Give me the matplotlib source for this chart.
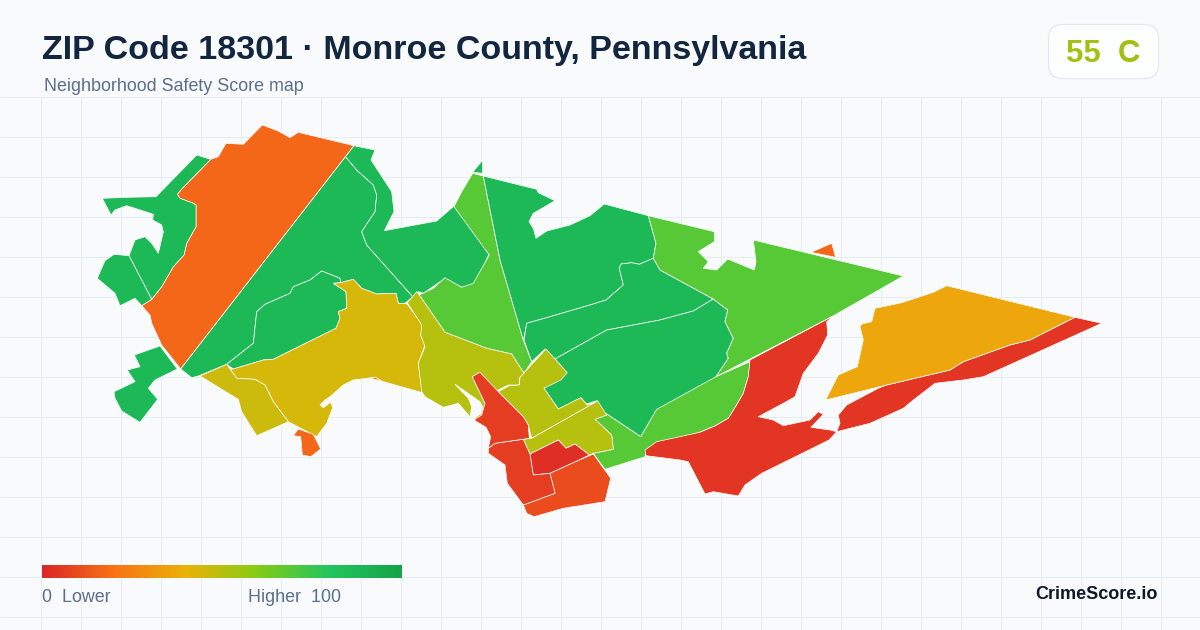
import numpy as np
import matplotlib
matplotlib.use("Agg")
import matplotlib.pyplot as plt
from matplotlib.colors import LinearSegmentedColormap
from matplotlib.patches import Polygon, FancyBboxPatch

# ---------- text ----------
title = "ZIP Code 18301 · Monroe County, Pennsylvania"
subtitle = "Neighborhood Safety Score map"
score_label = "55  C"
low_label = "0  Lower"
high_label = "Higher  100"
brand = "CrimeScore.io"

# ---------- colour scale ----------
stops = [0, .2, .4, .6, .8, 1]
stop_colors = ["#dc2626", "#f97316", "#eab308", "#84cc16", "#22c55e", "#16a34a"]

big_orange = [(141.7,305.7),(151.7,299.3),(161.7,286.7),(173.3,266.7),(184,255),(186.7,243.3),(196,226.7),(196,205),(193.3,203.3),(180,198.3),(177.3,194.3),(181.7,189),(210.7,159.3),(218.3,156.7),(226,143.3),(243.3,144.3),(262.3,125),(278.3,131),(290,137.7),(298.3,132.3),(354,145.7),(180.7,369),(161.7,345),(151.7,323.3),(150,315)]
nw_green = [(102.3,198.3),(128.3,197.3),(156,196.7),(196.7,155),(210.7,159.3),(181.7,189),(177.3,194.3),(180,198.3),(193.3,203.3),(196,205),(196,226.7),(186.7,243.3),(184,255),(173.3,266.7),(161.7,286.7),(151.7,299.3),(129,255.7),(135,240),(145,236.7),(151.7,243.3),(158.3,253.3),(163.3,232),(161.7,225),(152.7,220),(153.3,214.3),(143.3,211),(126.7,205.7),(115,210),(111,215)]
w_green = [(129,255.7),(151.7,299.3),(141.7,305.7),(135,298.3),(120,305.7),(115,293.3),(97.3,278.3),(105,260.7),(114,254.3)]
sw_green = [(160,346),(177.3,369),(155,380),(148.3,388.3),(157.7,399.3),(140,422.3),(121.7,411),(115,398.3),(114,391.7),(135,381.7),(127.3,370),(140,366.7),(134.3,355)]
diag_green = [(345.5,156.7),(356.7,170),(373.3,185),(376.7,195),(375,211.7),(361.7,231.7),(366.7,245),(412.7,296.7),(405,303.3),(398.3,303.3),(396,293.3),(376.7,294),(361.7,288.3),(353.3,279.3),(340.7,282.7),(340,278.3),(321.7,271),(310,280),(293.3,286.7),(290,293.3),(265,304.3),(256.7,311.7),(253.3,343.3),(226.7,364.3),(198.3,376),(191.7,377.7),(180.7,369)]
pocket_green = [(321.7,271),(340,278.3),(340.7,282.7),(333.3,283.3),(346,291.7),(346.7,308.3),(338.3,311.7),(340,318.3),(336,328.3),(273.3,359.3),(263.3,360),(233.3,369),(226.7,364.3),(253.3,343.3),(256.7,311.7),(265,304.3),(290,293.3),(293.3,286.7),(310,280)]
strip_green = [(354,145.7),(375,150),(371,160),(391.7,191.7),(394,211.7),(384.3,230.7),(436.7,221),(454.3,205.7),(489,254.3),(475,283.3),(461.7,287.3),(445,278.3),(423.3,293.3),(418.3,291.7),(412.7,296.7),(366.7,245),(361.7,231.7),(375,211.7),(376.7,195),(373.3,185),(356.7,170),(345.5,156.7)]
big_yellow = [(233.3,369),(263.3,360),(273.3,359.3),(336,328.3),(340,318.3),(338.3,311.7),(346.7,308.3),(346,291.7),(333.3,283.3),(340.7,282.7),(353.3,279.3),(361.7,288.3),(376.7,294),(396,293.3),(398.3,303.3),(405,303.3),(407.3,304.3),(422.7,325),(420.7,335),(425,345),(418.3,363.3),(422.3,392.7),(380,380.7),(375,377.3),(353.3,380),(343.3,385),(330,396.7),(325,400),(320,405),(323.3,407.7),(330.7,402.3),(332.7,407.7),(326.7,423.3),(316.7,436.7),(288.3,421.7),(273.3,401.7),(265,385),(255,379.3),(236.7,378.3),(230,369)]
low_yellow = [(200,376),(226.7,364.3),(230,369),(236.7,378.3),(255,379.3),(265,385),(273.3,401.7),(288.3,421.7),(256.7,435.7),(241.7,411.7),(238.3,399.3)]
small_orange = [(293.3,435.7),(298.3,429),(313.3,434.3),(320.7,449),(310.7,456.7),(302.3,455),(300.7,436.7)]
sliver_orange = [(375,377),(381,380.5),(372,379)]
light_center = [(472.7,173.3),(483.3,176),(500,260),(523.3,340),(531.7,361.7),(524,373.3),(511.7,354),(486.7,348.3),(445,332.3),(419.3,295),(433.3,288.3),(445,277.7),(461.7,287.3),(473.3,283.3),(489.3,255),(454,206.7),(461.7,191.7)]
tip_green = [(472.7,172.3),(482.7,160),(482.7,173.3)]
top_green = [(483.3,176),(536.7,189.3),(538.3,192.7),(555,200.7),(533.3,213.3),(529,221.7),(533.3,228.3),(536,238.3),(546.7,231),(570,225),(590,215.7),(604.3,204),(648.3,215.7),(656,243.3),(653.3,258.3),(639.3,264.3),(631.7,262.7),(621,264),(619.3,268.3),(623.3,285),(606,300),(590,305),(550,316.7),(526.7,323.3),(525,332.7),(523.3,340),(500,260)]
mid_green = [(526.7,323.3),(550,316.7),(590,305),(606,300),(623.3,285),(619.3,268.3),(621,264),(631.7,262.7),(639.3,264.3),(653.3,258.3),(660,270),(713.3,299),(693.3,311),(660,320),(606.7,330),(555,359),(545,349),(531.7,361.7),(524,340)]
low_green = [(555,359),(606.7,330),(660,320),(693.3,311),(713.3,299),(727.7,310),(725,321.7),(733.3,338.3),(726.7,353.3),(728.3,358.3),(715,378.3),(656.7,410),(640.7,436.7),(603.3,411.7),(596.7,400.7),(586.7,404),(581,397.7),(558.3,409),(544,388.3),(566.7,372.3)]
light_east = [(648.3,215.7),(714.3,231.7),(714.3,241.7),(698.3,251.7),(708.3,261.7),(703.3,268.3),(716.7,270),(727.7,259),(754.3,270),(756,261.7),(753.3,240),(903.3,276),(833,316),(716,376.7),(728.3,358.3),(726.7,353.3),(733.3,338.3),(725,321.7),(727.7,310),(713.3,299),(660,270),(653.3,258.3),(656,243.3)]
east_orange = [(811,252.3),(831.7,243.3),(835.7,257.3)]
light_south = [(750,361.7),(716,376.7),(656.7,409.3),(640.7,436.7),(603.3,411.7),(606.7,415),(595,419.3),(611.7,435),(613.3,449.3),(593.3,453.3),(605,469.3),(645,456.7),(646,450),(660,441.7),(696.7,433.3),(715,426),(728.3,418.3),(736,406),(743.3,393.3),(748.3,376.7)]
big_red = [(750,360),(833.3,316),(826.7,321.7),(827.7,335),(818.3,353.3),(803.3,373.3),(795,396.7),(783.3,403.3),(758.3,416.7),(773.3,420),(783.3,425.7),(810,420),(818.3,411.7),(823.3,414.3),(811,427.3),(830,430),(836.7,431.7),(829,440),(761.7,473.3),(745,485),(738.3,496),(713.3,491.7),(705,494),(688.3,461.7),(680,460),(646,455.7),(645,450),(656.7,441.7),(700,432.3),(715,426),(728.3,418.3),(736,406),(743.3,393.3),(748.3,376.7)]
red_strip = [(836.7,431.7),(840,423.3),(838.3,415),(846.7,405),(878.3,388.3),(886.7,385),(950,370),(963.3,361.7),(1010,345),(1030,340),(1075,317.3),(1101.7,323.3),(983.3,376.7),(963.3,380),(935,383.3),(913.3,400),(903.3,408.3),(870,423.3)]
gold_east = [(825.7,400),(838.3,375),(857.3,366.7),(863.3,340),(860,326.7),(861.7,324),(871.7,321.7),(875,308.3),(901.7,302.7),(933.3,292.3),(946.7,285.7),(1075,317.3),(1030,340),(1010,345),(963.3,361.7),(950,370),(886.7,385)]
olive_west = [(407.3,302.7),(416.7,291.7),(419.3,295),(445,332.3),(486.7,348.3),(511.7,354),(524,373.3),(519.3,378.3),(519.3,385),(508.3,385),(496.7,390.7),(479.3,372.7),(472.3,376.7),(485,403.3),(482.7,415),(480,420),(474,418.3),(481.7,413.3),(482.7,406.7),(480,401.7),(466.7,392.3),(455,384.3),(468.3,398.3),(471.7,406.7),(470,416.7),(458.3,403.3),(443.3,407.3),(425,396.7),(421.7,391.7),(418.3,363.3),(425,346.7),(420.7,335),(421.7,325)]
olive_center = [(498.3,391.7),(509.3,385.7),(519.3,385),(520,377.3),(546,349),(567.3,372.7),(560.7,380),(544,388.3),(558.3,409),(580.7,397.7),(587.3,405),(597.7,401),(531.7,438.3),(528.3,425),(523.3,416.7)]
olive_low = [(597.7,401),(606.7,415),(595,419.3),(611.7,435),(613.3,449.3),(593.3,453.3),(589.3,455),(575,444),(566,448.3),(558.3,440),(530,454),(523.3,439.3),(531.7,438.3)]
dark_red = [(530,454),(558.3,440),(566,448.3),(575,444),(589.3,455),(573.3,462.7),(550,473.3),(533.3,475)]
south_orange = [(593.3,454),(610.7,478.3),(605,501.7),(563.3,508.3),(534,516.7),(526.7,513.3),(523.3,505),(555,493.3),(550,473.3),(573.3,462.7)]
south_red = [(488.3,448.3),(495,443.3),(523.3,439.3),(530,454),(533.3,475),(550,473.3),(555,493.3),(523.3,505),(507.3,483.3),(505,465),(488.3,453.3)]
west_red = [(472.3,376.7),(480,372.3),(498.3,391.7),(523.3,416.7),(528.3,425),(529.3,438.3),(495,443.3),(488.3,448.3),(490.7,436.7),(486,427.3),(474,420),(481.7,415),(485,403.3)]

# ---------- score of each tract ----------
tracts = [big_orange, nw_green, w_green, sw_green, diag_green, pocket_green, strip_green,
          big_yellow, low_yellow, small_orange, sliver_orange, light_center, tip_green,
          top_green, mid_green, low_green, light_east, east_orange, light_south, big_red,
          red_strip, gold_east, olive_west, olive_center, olive_low, dark_red,
          south_orange, south_red, west_red]
scores = [17, 87, 87, 87, 87, 87, 87,
          44, 46, 17, 17, 69, 87,
          87, 87, 87, 69, 17, 69, 4,
          4, 36, 50, 50, 50, 2,
          10, 6, 6]

# ---------- figure ----------
plt.rcParams["font.family"] = ["Liberation Sans", "DejaVu Sans"]
BG = "#f8fafc"
fig = plt.figure(figsize=(12, 6.3), dpi=100, facecolor=BG)
ax = fig.add_axes([0, 0, 1, 1], facecolor=BG)
ax.axis("off")

# background grid
ax.vlines(np.arange(40.5, 1200, 40), 96.5, 630, color="#e4ecf4", lw=0.72, zorder=1)
ax.hlines(np.arange(96.5, 630, 40), 0, 1200, color="#e4ecf4", lw=0.72, zorder=1)

# map
cmap = LinearSegmentedColormap.from_list("safety", list(zip(stops, stop_colors)))
for poly, s in zip(tracts, scores):
    ax.add_patch(Polygon(poly, closed=True, facecolor=cmap(s / 100), edgecolor="white",
                         lw=0.5, joinstyle="round", zorder=2))

# heading
ax.text(42, 59, title, fontsize=24.45, fontweight="bold", color="#12263f", va="baseline", zorder=5)
ax.text(44, 91, subtitle, fontsize=12.9, color="#5b6f8e", va="baseline", zorder=5)

# score badge
ax.add_patch(FancyBboxPatch((1048.5 + 14, 24.5 + 14), 110 - 28, 54 - 28,
                            boxstyle="round,pad=14,rounding_size=14",
                            facecolor="#fdfefe", edgecolor="#e2e8f0", lw=0.9, zorder=4))
ax.text(1103, 62, score_label, fontsize=22.4, fontweight="bold", color="#a3c012",
        ha="center", va="baseline", zorder=5)

# legend bar
ax.imshow(np.linspace(0, 1, 360)[None, :], cmap=cmap, extent=(42, 402, 578, 565),
          aspect="auto", zorder=3, vmin=0, vmax=1)
ax.text(42, 602.5, low_label, fontsize=12.9, color="#5b6f8e", va="baseline", zorder=5)
ax.text(341.5, 602.5, high_label, fontsize=12.9, color="#5b6f8e", ha="right", va="baseline", zorder=5)
ax.text(1158, 599, brand, fontsize=13, fontweight="bold", color="#0f172a", ha="right", va="baseline", zorder=5)

ax.set_xlim(0, 1200)
ax.set_ylim(630, 0)
fig.savefig("out.png", dpi=100, facecolor=BG)
